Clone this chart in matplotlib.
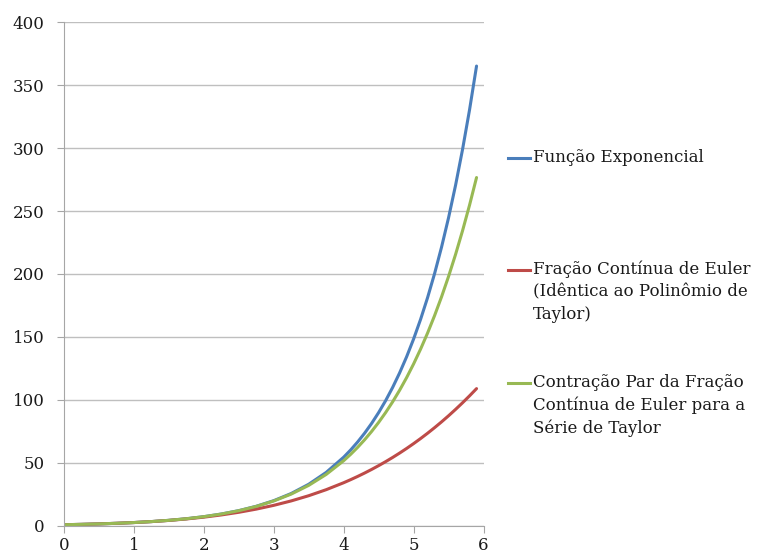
import matplotlib.pyplot as plt
from matplotlib.lines import Line2D

# x values and the three series
x = [0, 0.25, 0.5, 0.75, 1, 1.25, 1.5, 1.75, 2, 2.25, 2.5, 2.75, 3,
     3.25, 3.5, 3.75, 4, 4.1, 4.2, 4.3, 4.4, 4.5, 4.6, 4.7, 4.8, 4.9,
     5, 5.1, 5.2, 5.3, 5.4, 5.5, 5.6, 5.7, 5.8, 5.9]

exponencial = [1.0, 1.28, 1.65, 2.12, 2.72, 3.49, 4.48, 5.75, 7.39, 9.49,
               12.18, 15.64, 20.09, 25.79, 33.12, 42.52, 54.6, 60.34, 66.69,
               73.7, 81.45, 90.02, 99.48, 109.95, 121.51, 134.29, 148.41,
               164.02, 181.27, 200.34, 221.41, 244.69, 270.43, 298.87,
               330.3, 365.04]

fracao_euler = [1.0, 1.28, 1.65, 2.12, 2.71, 3.46, 4.4, 5.57, 7.0, 8.75,
                10.86, 13.38, 16.38, 19.9, 24.02, 28.81, 34.33, 36.77, 39.33,
                42.04, 44.89, 47.9, 51.06, 54.38, 57.87, 61.53, 65.38, 69.4,
                73.62, 78.04, 82.65, 87.48, 92.53, 97.79, 103.29, 109.02]

contracao_par = [1.0, 1.28, 1.65, 2.12, 2.72, 3.49, 4.48, 5.75, 7.38, 9.47,
                 12.13, 15.53, 19.85, 25.32, 32.23, 40.92, 51.81, 56.88,
                 62.42, 68.47, 75.05, 82.22, 90.03, 98.52, 107.74, 117.75,
                 128.62, 140.4, 153.16, 166.98, 181.92, 198.08, 215.52,
                 234.36, 254.67, 276.56]

labels = ['Função Exponencial',
          'Fração Contínua de Euler\n(Idêntica ao Polinômio de\nTaylor)',
          'Contração Par da Fração\nContínua de Euler para a\nSérie de Taylor']
colors = ['#4A7EBB', '#BE4B48', '#98B954']

plt.rcParams['font.family'] = ['DejaVu Serif']

fig = plt.figure(figsize=(7.58, 5.56), dpi=100)
ax = fig.add_axes([0.0844, 0.054, 0.5535, 0.9064])

for y, c in zip([exponencial, fracao_euler, contracao_par], colors):
    ax.plot(x, y, color=c, linewidth=2.2, solid_capstyle='round',
            solid_joinstyle='round')

ax.set_xlim(0, 6)
ax.set_ylim(0, 400)
ax.set_xticks(range(0, 7))
ax.set_yticks(range(0, 401, 50))
ax.grid(axis='y', color='#BFBFBF', linewidth=1.0)
ax.set_axisbelow(True)
for s in ['top', 'right']:
    ax.spines[s].set_visible(False)
for s in ['left', 'bottom']:
    ax.spines[s].set_color('#A6A6A6')
ax.tick_params(axis='both', colors='#A6A6A6', labelcolor='#1a1a1a',
               labelsize=12, direction='out')
ax.tick_params(axis='y', length=5, pad=9)
ax.tick_params(axis='x', length=5, pad=3)

# legend drawn by hand so the key sits on the first line of each label
leg_y = [158, 270, 383]
for lab, c, yy in zip(labels, colors, leg_y):
    fy = 1 - yy / 556
    fig.add_artist(Line2D([508 / 758, 530 / 758], [fy, fy], color=c,
                          linewidth=2.2, transform=fig.transFigure))
    fig.text(533 / 758, 1 - (yy - 9) / 556, lab, fontsize=12, va='top',
             ha='left', color='#1a1a1a', linespacing=1.4,
             transform=fig.transFigure)

fig.savefig('out.png', dpi=100)
